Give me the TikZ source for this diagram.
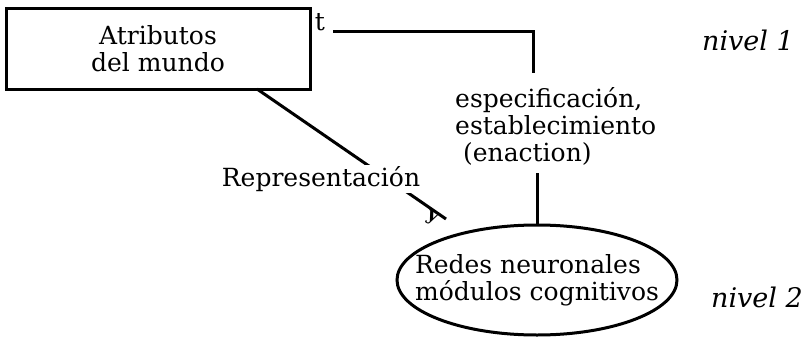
\documentclass[tikz,border=0pt]{standalone}
\usepackage{fontspec}
\setmainfont{DejaVu Serif}
\usetikzlibrary{shapes.geometric}
\begin{document}
\begin{tikzpicture}[x=1pt,y=-1pt,
  txt/.style={font=\fontsize{25}{27}\selectfont, inner sep=0pt},
  itl/.style={font=\fontsize{27}{30}\selectfont\itshape, inner sep=0pt},
  conn/.style={line width=3pt},
  box/.style={draw, line width=3pt, minimum width=304pt, minimum height=81pt, align=center},
  ell/.style={draw, ellipse, line width=3pt, minimum width=280pt, minimum height=110pt, inner xsep=-50pt, inner ysep=0pt, align=left}]
\useasboundingbox (0,0) rectangle (804,343);
\node[box, txt, minimum width=304pt, minimum height=81pt] (attr) at (158,48.5) {Atributos\\del mundo};
\node[txt] (t) at (320,22) {t};
\coordinate (corner) at (533,31);
\node[txt, align=left, anchor=west] (espec) at (455,126) {especificación,\\establecimiento\\\ (enaction)};
\node[txt, ell] (redes) at (537,280) {Redes neuronales\\módulos cognitivos};
\coordinate (rend) at (446,219);
\draw[conn] (333,31) -- (corner) -- (corner |- 0,73) coordinate (cend);
\draw[conn] (redes.north |- 0,173) coordinate (bstart) -- (redes.north);
\draw[conn] (257,89) -- (rend);
\node[txt, fill=white, inner sep=1pt] (repr) at (321,179) {Representación};
\node[font=\fontsize{19}{19}\selectfont\bfseries, rotate=-25, inner sep=0pt] (yy) at (432,218) {y};
\node[itl] (n1) at (748,40) {nivel 1};
\node[itl] (n2) at (757,297) {nivel 2};
\end{tikzpicture}
\end{document}
